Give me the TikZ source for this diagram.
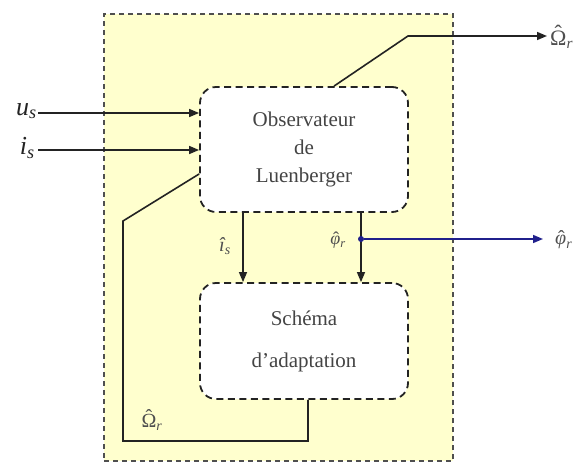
\documentclass[tikz,border=0pt]{standalone}
\usepackage{fontspec}
\setmainfont{Liberation Serif}
\usetikzlibrary{arrows.meta}
\definecolor{bgyellow}{RGB}{255,255,206}
\definecolor{navy}{RGB}{32,32,140}
\definecolor{ink}{RGB}{35,35,35}
\newcommand\lsub[1]{\textsubscript{\itshape #1}}
\newcommand\hatit[2][0.08em]{\leavevmode\setbox0=\hbox{#2}%
  \hbox to\wd0{\hss\kern#1\raisebox{\dimexpr\ht0-0.46em\relax}{\upshape\char"02C6}\hss}%
  \hskip-\wd0\box0}
\begin{document}
\begin{tikzpicture}[x=1pt,y=-1pt,
  blockbox/.style={draw=ink, line width=1.8pt, dash pattern=on 7pt off 4.5pt,
    rounded corners=16pt, fill=white, minimum width=208pt, inner sep=0pt,
    align=center, font=\fontsize{21}{28}\selectfont, text=ink!85},
  conn/.style={draw=ink, line width=1.6pt},
  arr/.style={conn, -{Triangle[length=10pt,width=8pt]}},
  lab/.style={font=\fontsize{26}{26}\selectfont\itshape, text=ink, inner sep=0pt},
  smalllab/.style={font=\fontsize{20}{20}\selectfont\itshape, text=ink!80, inner sep=0pt}]
\useasboundingbox (0,0) rectangle (574,464);
\node[draw=ink!80, line width=1.2pt, dash pattern=on 5pt off 4pt, fill=bgyellow,
  minimum width=349pt, minimum height=447pt, inner sep=0pt] (outer) at (278.5,237.5) {};
\node[blockbox, minimum height=125pt] (obs) at (304,149.5) {Observateur\\de\\Luenberger};
\node[blockbox, minimum height=116pt] (adp) at (304,341) {Schéma\\[14pt]d'adaptation};
% inputs
\node[lab, anchor=east] (us) at (37,111) {u\lsub{s}};
\node[lab, anchor=east] (is) at (35,148) {i\lsub{s}};
\coordinate (usin) at (38,113);
\coordinate (isin) at (38,150);
\draw[arr] (usin) -- (usin -| obs.west);
\draw[arr] (isin) -- (isin -| obs.west);
% output speed
\coordinate (bend) at (408,36);
\coordinate (omout) at (547,36);
\draw[arr] ([xshift=30pt]obs.north) -- (bend) -- (omout);
\node[smalllab, anchor=west, font=\fontsize{22}{22}\selectfont] (omlab) at (550,37) {\hatit[0pt]{Ω}\lsub{r}};
% internal arrows
\draw[arr, line width=1.3pt] ([xshift=-61pt]obs.south) -- ([xshift=-61pt]adp.north);
\draw[arr, line width=1.3pt] ([xshift=57pt]obs.south) -- ([xshift=57pt]adp.north);
\node[smalllab] (ishat) at (225,246) {\^{\i}\lsub{s}};
\node[smalllab, font=\fontsize{18}{18}\selectfont\itshape] (phlab) at (338,240) {\hatit{φ}\lsub{r}};
% flux output
\node[circle, fill=navy, inner sep=0pt, minimum size=6pt] (dot) at (361,239) {};
\coordinate (phout) at (543,239);
\draw[navy, line width=1.6pt, -{Triangle[length=10pt,width=8pt]}] (dot) -- (phout);
\node[smalllab, anchor=west] (phoutlab) at (555,240) {\hatit{φ}\lsub{r}};
% feedback
\coordinate (fb1) at (308,441);
\coordinate (fb2) at (123,441);
\coordinate (fb3) at (123,221);
\coordinate (fb4) at (200,174);
\draw[conn] ([xshift=4pt]adp.south) -- (fb1) -- (fb2) -- (fb3) -- (fb4 -| obs.west);
\node[smalllab, font=\fontsize{20}{20}\selectfont] (omfb) at (152,420) {\hatit[0pt]{Ω}\lsub{r}};
\end{tikzpicture}
\end{document}
